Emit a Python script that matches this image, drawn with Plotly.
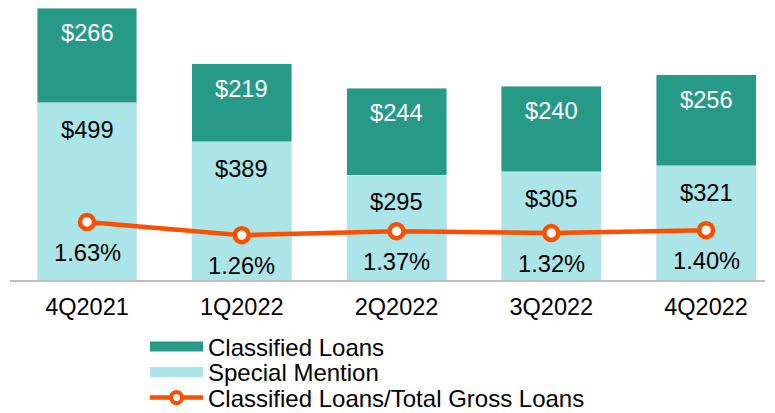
import plotly.graph_objects as go

quarters = ["4Q2021", "1Q2022", "2Q2022", "3Q2022", "4Q2022"]
classified = [266, 219, 244, 240, 256]
special_mention = [499, 389, 295, 305, 321]
ratio_pct = [1.63, 1.26, 1.37, 1.32, 1.40]

TEAL = "#279A87"
LIGHT = "#ABE5E7"
ORANGE = "#FC5000"
FONT = "Liberation Sans, Arial, sans-serif"
FS = 23.7
FS_TICK = 23.5
FS_LEG = 24

totals = [c + s for c, s in zip(classified, special_mention)]

fig = go.Figure()
fig.add_trace(go.Bar(x=quarters, y=special_mention, marker_color=LIGHT, width=0.646,
                     showlegend=False, name="Special Mention"))
fig.add_trace(go.Bar(x=quarters, y=classified, marker_color=TEAL, width=0.646,
                     showlegend=False, name="Classified Loans"))
fig.add_trace(go.Scatter(x=quarters, y=ratio_pct, yaxis="y2", mode="lines+markers",
                         line=dict(color=ORANGE, width=4.5),
                         marker=dict(size=14, color="white", line=dict(color=ORANGE, width=4.5)),
                         showlegend=False, name="Classified Loans/Total Gross Loans"))

# legend-only entries (wide swatches), one legend each for exact row spacing
fig.add_trace(go.Scatter(x=[None], y=[None], mode="lines", line=dict(color=TEAL, width=13),
                         name="Classified Loans", legend="legend"))
fig.add_trace(go.Scatter(x=[None], y=[None], mode="lines", line=dict(color=LIGHT, width=13),
                         name="Special Mention", legend="legend2"))
fig.add_trace(go.Scatter(x=[None], y=[None], mode="lines+markers",
                         line=dict(color=ORANGE, width=4.5),
                         marker=dict(size=11, color="white", line=dict(color=ORANGE, width=4)),
                         name="Classified Loans/Total Gross Loans", legend="legend3"))

ann = []
for q, c, s, t, p in zip(quarters, classified, special_mention, totals, ratio_pct):
    ann.append(dict(x=q, y=t, xref="x", yref="y", text=f"${c}", showarrow=False,
                    yshift=-25, font=dict(color="white", size=FS, family=FONT)))
    ann.append(dict(x=q, y=s, xref="x", yref="y", text=f"${s}", showarrow=False,
                    yshift=-27, font=dict(color="black", size=FS, family=FONT)))
    ann.append(dict(x=q, y=p, xref="x", yref="y2", text=f"{p:.2f}%", showarrow=False,
                    yshift=-31, font=dict(color="black", size=FS, family=FONT)))

# page body adds an 8px offset; plot area in screen px: x 10..765, y 8..280
PLOT_BOTTOM, PLOT_H = 280, 272

def leg(yc):
    return dict(x=(145 - 10) / 755, y=(PLOT_BOTTOM - yc) / PLOT_H,
                xanchor="left", yanchor="middle", orientation="v", itemwidth=53,
                font=dict(size=FS_LEG, color="black", family=FONT),
                bgcolor="rgba(0,0,0,0)", borderwidth=0)

fig.update_layout(
    width=767, height=405,
    margin=dict(l=2, r=10, t=0, b=133, autoexpand=False),
    paper_bgcolor="white", plot_bgcolor="white",
    barmode="stack",
    font=dict(family=FONT, size=FS, color="black"),
    xaxis=dict(range=[-0.4976, 4.381], showline=True, linecolor="#BFBFBF", linewidth=2,
               showgrid=False, ticks="", ticklabelstandoff=5, tickangle=0, automargin=False,
               tickfont=dict(size=FS_TICK, color="black")),
    yaxis=dict(range=[0, 765], visible=False, showgrid=False),
    yaxis2=dict(range=[0, 7.64], overlaying="y", side="right", visible=False, showgrid=False),
    legend=leg(347),
    legend2=leg(372.5),
    legend3=leg(398),
    annotations=ann,
)

fig.write_html("out.html")
